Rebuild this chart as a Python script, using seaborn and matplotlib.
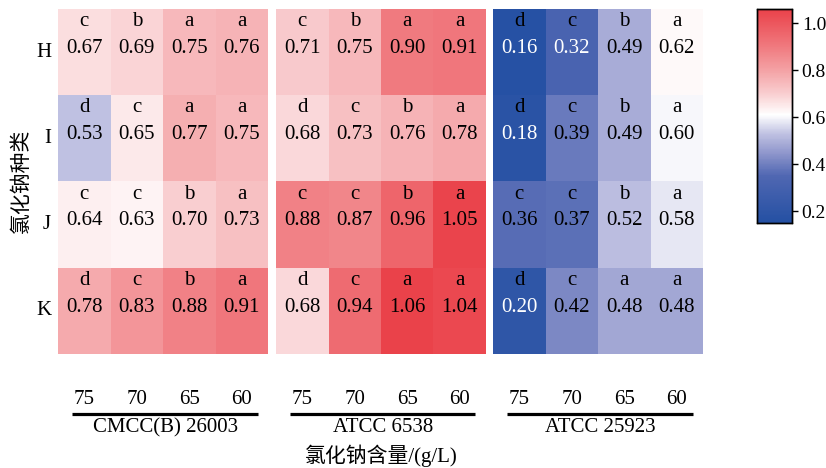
import numpy as np
import pandas as pd
import matplotlib
matplotlib.use("Agg")
import matplotlib.pyplot as plt
import matplotlib.transforms as mtransforms
from matplotlib.colors import LinearSegmentedColormap
import seaborn as sns

# ---------------- data ----------------
rows = ["H", "I", "J", "K"]
conc = ["75", "70", "65", "60"]
strains = ["CMCC(B) 26003", "ATCC 6538", "ATCC 25923"]

vals_cmcc = [[0.67, 0.69, 0.75, 0.76],
             [0.53, 0.65, 0.77, 0.75],
             [0.64, 0.63, 0.70, 0.73],
             [0.78, 0.83, 0.88, 0.91]]
vals_6538 = [[0.71, 0.75, 0.90, 0.91],
             [0.68, 0.73, 0.76, 0.78],
             [0.88, 0.87, 0.96, 1.05],
             [0.68, 0.94, 1.06, 1.04]]
vals_25923 = [[0.16, 0.32, 0.49, 0.62],
              [0.18, 0.39, 0.49, 0.60],
              [0.36, 0.37, 0.52, 0.58],
              [0.20, 0.42, 0.48, 0.48]]

let_cmcc = [["c", "b", "a", "a"],
            ["d", "c", "a", "a"],
            ["c", "c", "b", "a"],
            ["d", "c", "b", "a"]]
let_6538 = [["c", "b", "a", "a"],
            ["d", "c", "b", "a"],
            ["c", "c", "b", "a"],
            ["d", "c", "a", "a"]]
let_25923 = [["d", "c", "b", "a"],
             ["d", "c", "b", "a"],
             ["c", "c", "b", "a"],
             ["d", "c", "a", "a"]]

vmin, vmax = 0.15, 1.06

# ---------------- style ----------------
sns.set_theme(style="white")
plt.rcParams["font.family"] = ["Liberation Serif", "Noto Sans CJK SC"]

stops = [(0.15, (36, 80, 163)), (0.35, (80, 103, 178)), (0.45, (145, 152, 205)),
         (0.53, (192, 194, 226)), (0.61, (255, 255, 255)), (0.70, (249, 206, 208)),
         (0.80, (244, 162, 165)), (0.90, (240, 122, 127)), (1.06, (234, 66, 74))]
cmap = LinearSegmentedColormap.from_list(
    "custom", [((v - vmin) / (vmax - vmin), tuple(c / 255 for c in col)) for v, col in stops])

W, H = 826, 468
fig = plt.figure(figsize=(W / 100, H / 100), dpi=100)
lefts = [58, 276, 493]
top_px, bot_px = 9, 354
hpx = bot_px - top_px
axes = [fig.add_axes([l / W, 1 - bot_px / H, 210 / W, hpx / H]) for l in lefts]
cax = fig.add_axes([757 / W, 1 - 223 / H, 35 / W, 214 / H])

all_vals = [vals_cmcc, vals_6538, vals_25923]
all_lets = [let_cmcc, let_6538, let_25923]
FS = 15

for k, ax in enumerate(axes):
    df = pd.DataFrame(all_vals[k], index=rows, columns=conc)
    sns.heatmap(df, ax=ax, cmap=cmap, vmin=vmin, vmax=vmax, annot=False,
                cbar=(k == 2), cbar_ax=cax if k == 2 else None,
                xticklabels=False, yticklabels=(k == 0), linewidths=0)
    for i in range(4):
        for j in range(4):
            v = all_vals[k][i][j]
            vcol = "white" if v < 0.34 else "black"
            ax.text(j + 0.5, i + 0.20, all_lets[k][i][j], ha="center", va="baseline",
                    fontsize=FS, color="black")
            ax.text(j + 0.5, i + 0.51, f"{v:.2f}", ha="center", va="baseline",
                    fontsize=FS, color=vcol)
    ax.set_xlabel("")
    ax.set_ylabel("")
    ax.set_xticks([])
    trans = mtransforms.blended_transform_factory(ax.transData, ax.transAxes)
    for j, c in enumerate(conc):
        ax.text(j + 0.5, (bot_px - 399) / hpx, c, transform=trans,
                ha="center", va="center", fontsize=FS, color="black")
    ax.plot([0.27, 3.8], [(bot_px - 414) / hpx] * 2, transform=trans,
            color="black", lw=2.3, clip_on=False, solid_capstyle="butt")
    ax.text(2.05, (bot_px - 428) / hpx, strains[k], transform=trans,
            ha="center", va="center", fontsize=FS, color="black")
    if k == 0:
        ax.set_yticklabels(rows, rotation=0, fontsize=FS, color="black")
        ax.tick_params(axis="y", length=0, pad=5)
    else:
        ax.set_yticks([])

axes[1].text(0.5, (bot_px - 456) / hpx, "氯化钠含量/(g/L)",
             transform=axes[1].transAxes, ha="center", va="center", fontsize=FS,
             color="black")
fig.text(22 / W, 1 - 181 / H, "氯化钠种类", rotation=90, ha="center", va="center",
         fontsize=FS, color="black")

cax.set_yticks([0.2, 0.4, 0.6, 0.8, 1.0])
cax.set_yticklabels(["0.2", "0.4", "0.6", "0.8", "1.0"])
cax.tick_params(axis="y", length=4, width=1, direction="out", labelsize=14,
                colors="black", pad=3, right=True)
for sp in cax.spines.values():
    sp.set_visible(True)
    sp.set_edgecolor("black")
    sp.set_linewidth(1)

fig.savefig("out.png", dpi=100)
